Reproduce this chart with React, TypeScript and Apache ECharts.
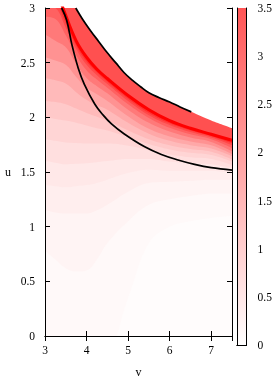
import React, { useEffect, useRef } from "react";
import * as echarts from "echarts";

const vGrid = [3, 3.25, 3.5, 3.75, 4, 4.25, 4.5, 5, 5.5, 6, 6.5, 7, 7.5];
// u position of each level curve along vGrid (level = colour-bar value)
const ridge = [3.5, 3.2, 2.93, 2.7, 2.55, 2.44, 2.355, 2.2, 2.07, 1.97, 1.9, 1.845, 1.79];
const level45 = [3.25, 3.13, 2.9, 2.68, 2.53, 2.425, 2.34, 2.185, 2.055, 1.958, 1.89, 1.837, 1.78];
const level40 = [3.13, 3.07, 2.86, 2.655, 2.51, 2.41, 2.325, 2.17, 2.04, 1.945, 1.88, 1.828, 1.765];
const level35 = [3.02, 3.0, 2.82, 2.625, 2.48, 2.385, 2.305, 2.15, 2.02, 1.93, 1.865, 1.815, 1.745];
const level30 = [2.92, 2.9, 2.75, 2.57, 2.43, 2.345, 2.27, 2.12, 1.995, 1.905, 1.845, 1.8, 1.72];
const level25 = [2.76, 2.7, 2.64, 2.49, 2.36, 2.285, 2.22, 2.07, 1.95, 1.87, 1.815, 1.775, 1.69];
const level20 = [2.55, 2.52, 2.48, 2.37, 2.27, 2.21, 2.15, 2.01, 1.895, 1.825, 1.78, 1.745, 1.665];
const level16 = [2.36, 2.34, 2.31, 2.23, 2.16, 2.11, 2.07, 1.95, 1.85, 1.785, 1.745, 1.715, 1.645];
const level125 = [2.15, 2.14, 2.12, 2.08, 2.04, 2.005, 1.97, 1.88, 1.8, 1.745, 1.71, 1.685, 1.615];
const level10 = [2.0, 1.985, 1.97, 1.95, 1.925, 1.9, 1.88, 1.82, 1.755, 1.705, 1.675, 1.655, 1.595];
const level075 = [1.8, 1.785, 1.77, 1.765, 1.76, 1.76, 1.76, 1.74, 1.7, 1.66, 1.635, 1.62, 1.565];
const level055 = [1.6, 1.585, 1.57, 1.575, 1.58, 1.59, 1.6, 1.62, 1.62, 1.595, 1.58, 1.57, 1.535];
const level04 = [1.38, 1.37, 1.36, 1.37, 1.38, 1.4, 1.43, 1.49, 1.52, 1.51, 1.51, 1.51, 1.49];
const level028 = [1.15, 1.13, 1.12, 1.12, 1.12, 1.15, 1.2, 1.32, 1.4, 1.41, 1.42, 1.43, 1.43];
const level018 = [0.78, 0.7, 0.62, 0.59, 0.6, 0.7, 0.85, 1.05, 1.2, 1.25, 1.28, 1.3, 1.3];
const level010 = [-0.1, -0.1, -0.1, -0.1, -0.1, -0.1, -0.1, 0.35, 0.85, 1.0, 1.05, 1.08, 1.1];

// white / red boundary of the upper band
const edgeV = [3.0, 3.4, 3.74, 3.9, 4.1, 4.3, 4.5, 4.7, 4.9, 5.1, 5.3, 5.5, 5.75, 6.0, 6.25, 6.52, 7.0, 7.5];
const edgeU = [3.9, 3.3, 3.0, 2.9, 2.79, 2.69, 2.59, 2.5, 2.41, 2.34, 2.28, 2.225, 2.18, 2.14, 2.095, 2.05, 1.97, 1.9];

// black curves
const upperCurveV = [3.74, 3.9, 4.1, 4.3, 4.5, 4.7, 4.9, 5.1, 5.3, 5.5, 5.75, 6.0, 6.25, 6.52];
const upperCurveU = [3.0, 2.9, 2.79, 2.69, 2.59, 2.5, 2.41, 2.34, 2.28, 2.225, 2.18, 2.14, 2.095, 2.05];
const lowerCurveV = [3.4, 3.52, 3.65, 3.8, 3.95, 4.2, 4.4, 4.6, 4.9, 5.4, 5.8, 6.2, 6.6, 7.0, 7.5];
const lowerCurveU = [3.0, 2.89, 2.66, 2.45, 2.3, 2.12, 2.02, 1.94, 1.85, 1.73, 1.66, 1.61, 1.57, 1.54, 1.518];

// colour bar
const cbMax = [3.5];

const FONT = "Liberation Serif";

// each curve is filled down to u = 0 with the colour of the band just below it
const layers: [number[], string][] = [
  [ridge, "#ff1818"],
  [level45, "#ff3131"],
  [level40, "#ff4949"],
  [level35, "#ff6161"],
  [level30, "#ff7979"],
  [level25, "#ff9292"],
  [level20, "#ffa8a8"],
  [level16, "#ffbaba"],
  [level125, "#ffc9c9"],
  [level10, "#ffd5d5"],
  [level075, "#ffdfdf"],
  [level055, "#ffe8e8"],
  [level04, "#ffeeee"],
  [level028, "#fff4f4"],
  [level018, "#fff9f9"],
  [level010, "#fffcfc"],
];

export default function App() {
  const ref = useRef<HTMLDivElement>(null);
  useEffect(() => {
    if (!ref.current) return;
    const chart = echarts.init(ref.current, null, { renderer: "svg" });
    const axisLine = { show: true, lineStyle: { color: "#000", width: 1 } };
    const label = { color: "#000", fontFamily: FONT, fontSize: 11.5 };
    const base = {
      type: "line",
      xAxisIndex: 0,
      yAxisIndex: 0,
      symbol: "none",
      smooth: 0.4,
      silent: true,
    };
    const series: any[] = [
      {
        ...base,
        data: edgeV.map((v, k) => [v, edgeU[k]]),
        lineStyle: { width: 0, color: "#ff5050" },
        areaStyle: { color: "#ff5050", opacity: 1 },
        z: 2,
      },
    ];
    layers.forEach(([arr, color], i) => {
      series.push({
        ...base,
        data: vGrid.map((v, k) => [v, arr[k]]),
        lineStyle: { width: 0, color },
        areaStyle: { color, opacity: 1 },
        z: 2.1 + i * 0.05,
      });
    });
    series.push({
      ...base,
      data: vGrid.map((v, k) => [v, ridge[k]]),
      lineStyle: { width: 3, color: "#ff0000" },
      z: 4,
    });
    series.push({
      ...base,
      data: upperCurveV.map((v, k) => [v, upperCurveU[k]]),
      lineStyle: { width: 1.7, color: "#000" },
      z: 5,
    });
    series.push({
      ...base,
      data: lowerCurveV.map((v, k) => [v, lowerCurveU[k]]),
      lineStyle: { width: 1.7, color: "#000" },
      z: 5,
    });
    series.push({
      type: "bar",
      data: cbMax,
      xAxisIndex: 2,
      yAxisIndex: 2,
      barWidth: "100%",
      silent: true,
      itemStyle: {
        color: new echarts.graphic.LinearGradient(0, 0, 0, 1, [
          { offset: 0, color: "#ff5555" },
          { offset: 1, color: "#ffffff" },
        ]),
      },
      z: 2,
    });

    chart.setOption({
      animation: false,
      grid: [
        { left: 45, top: 8, width: 187, height: 337 },
        { left: 237, top: 8, width: 9.5, height: 337 },
      ],
      xAxis: [
        {
          gridIndex: 0, type: "value", min: 3, max: 7.5, interval: 1, position: "bottom",
          axisLine, axisTick: { inside: true, length: 5, lineStyle: { color: "#000" } },
          axisLabel: { ...label, margin: 8, showMaxLabel: false },
          splitLine: { show: false },
          name: "v", nameLocation: "middle", nameGap: 30,
          nameTextStyle: { color: "#000", fontFamily: FONT, fontSize: 12 },
          z: 50,
        },
        {
          gridIndex: 0, type: "value", min: 3, max: 7.5, interval: 1, position: "top",
          axisLine, axisTick: { inside: true, length: 5, lineStyle: { color: "#000" } },
          axisLabel: { show: false }, splitLine: { show: false }, z: 50,
        },
        {
          gridIndex: 1, type: "category", data: ["cb"], position: "bottom",
          axisLine, axisTick: { show: false }, axisLabel: { show: false }, z: 50,
        },
        {
          gridIndex: 1, type: "category", data: ["cb"], position: "top",
          axisLine, axisTick: { show: false }, axisLabel: { show: false }, z: 50,
        },
      ],
      yAxis: [
        {
          gridIndex: 0, type: "value", min: 0, max: 3, interval: 0.5, position: "left",
          axisLine, axisTick: { inside: true, length: 5, lineStyle: { color: "#000" } },
          axisLabel: { ...label, margin: 10 },
          splitLine: { show: false },
          name: "u", nameLocation: "middle", nameGap: 34, nameRotate: 0,
          nameTextStyle: { color: "#000", fontFamily: FONT, fontSize: 12 },
          z: 50,
        },
        {
          gridIndex: 0, type: "value", min: 0, max: 3, interval: 0.5, position: "right",
          axisLine, axisTick: { inside: true, length: 5, lineStyle: { color: "#000" } },
          axisLabel: { show: false }, splitLine: { show: false }, z: 50,
        },
        {
          gridIndex: 1, type: "value", min: 0, max: 3.5, interval: 0.5, position: "right",
          axisLine, axisTick: { inside: true, length: 4, lineStyle: { color: "#000" } },
          axisLabel: { ...label, margin: 11 },
          splitLine: { show: false }, z: 50,
        },
        {
          gridIndex: 1, type: "value", min: 0, max: 3.5, interval: 0.5, position: "left",
          axisLine, axisTick: { inside: true, length: 4, lineStyle: { color: "#000" } },
          axisLabel: { show: false }, splitLine: { show: false }, z: 50,
        },
      ],
      series,
    });
    return () => chart.dispose();
  }, []);
  return (
    <div
      ref={ref}
      style={{ position: "fixed", left: 0, top: 0, width: 278, height: 383 }}
    />
  );
}
